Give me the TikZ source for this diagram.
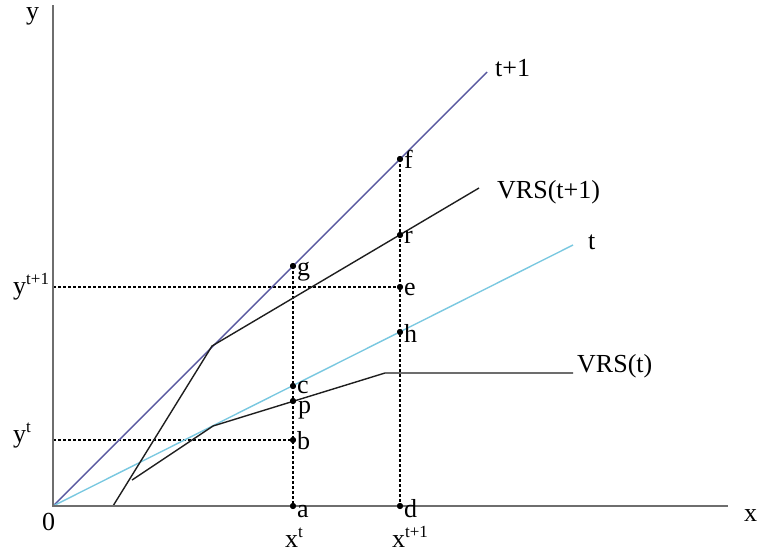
\documentclass[tikz,border=0pt]{standalone}
\usepackage{fontspec}
\setmainfont{Liberation Serif}
\definecolor{axisgray}{RGB}{110,110,110}
\definecolor{toneone}{RGB}{88,88,160}
\definecolor{tonezero}{RGB}{122,200,224}
\definecolor{vrsblack}{RGB}{30,30,30}
\newcommand\mysup[1]{\raisebox{0.36em}{\fontsize{17}{17}\selectfont #1}}
\begin{document}
\begin{tikzpicture}[x=1pt,y=-1pt,
  axisline/.style={draw=axisgray, line width=2.5pt},
  frontier/.style={line width=1.4pt},
  guide/.style={draw=black, dash pattern=on 3pt off 2pt, line width=1.1pt},
  dotnode/.style={circle, fill=black, inner sep=0pt, minimum size=6pt},
  lbl/.style={font=\fontsize{26}{30}\selectfont, inner sep=0pt, anchor=base west},
  lblc/.style={font=\fontsize{26}{30}\selectfont, inner sep=0pt, anchor=base}]
\useasboundingbox (0,0) rectangle (757,555);
% axes end points
\coordinate (O) at (53,506);
\coordinate (ytop) at (53,5);
\coordinate (xend) at (728,506);
\coordinate (yone) at (53,287);
\coordinate (yzero) at (53,440);
% frontier vertices
\coordinate (T1end) at (487,72);
\coordinate (T0end) at (573,245);
\coordinate (V1a) at (113,506);
\coordinate (V1b) at (212,346);
\coordinate (V1c) at (479,188);
\coordinate (V0a) at (132,480);
\coordinate (V0b) at (213,426);
\coordinate (V0c) at (385,373);
\coordinate (V0d) at (573,373);
% points
\node[dotnode] (g) at (293,266) {};
\node[dotnode] (c) at (293,386) {};
\node[dotnode] (p) at (293,401) {};
\node[dotnode] (b) at (293,440) {};
\node[dotnode] (a) at (293,506) {};
\node[dotnode] (f) at (400,159) {};
\node[dotnode] (r) at (400,235) {};
\node[dotnode] (e) at (400,287) {};
\node[dotnode] (h) at (400,332) {};
\node[dotnode] (d) at (400,506) {};
% dashed guides
\draw[guide] (yone) -- (e.center);
\draw[guide] (yzero) -- (b.center);
\draw[guide] (g.center) -- (a.center);
\draw[guide] (f.center) -- (d.center);
% frontiers
\draw[frontier, toneone] (O) -- (T1end);
\draw[frontier, tonezero] (O) -- (T0end);
\draw[frontier, vrsblack] (V1a) -- (V1b) -- (V1c);
\draw[frontier, vrsblack] (V0a) -- (V0b) -- (V0c) -- (V0d);
% axes
\draw[axisline] (ytop) -- (O) -- (xend);
% redraw dots on top
\foreach \n in {g,c,p,b,a,f,r,e,h,d} \fill (\n.center) circle (3pt);
% point labels
\node[lbl] (lg) at (297,275) {g};
\node[lbl, text height=12pt, text depth=0pt] (lc) at (297,393) {c};
\node[lbl, text height=12pt, text depth=6pt] (lp) at (298,413) {p};
\node[lbl] (lb) at (297,449) {b};
\node[lbl] (la) at (297,517) {a};
\node[lbl] (lf) at (404,168) {f};
\node[lbl] (lr) at (404,243) {r};
\node[lbl] (le) at (404,295) {e};
\node[lbl] (lh) at (404,342) {h};
\node[lbl] (ld) at (404,517) {d};
% curve labels
\node[lbl] (ltone) at (495,76) {t+1};
\node[lbl] (lvone) at (497,198) {VRS(t+1)};
\node[lbl] (ltzero) at (588,249) {t};
\node[lbl] (lvzero) at (577,372) {VRS(t)};
% axis labels
\node[lbl] (ly) at (26,19) {y};
\node[lbl] (lx) at (744,521) {x};
\node[lbl] (lo) at (42,530) {0};
\node[lbl] (lyone) at (13,294) {y\mysup{t+1}};
\node[lbl] (lyzero) at (13,442) {y\mysup{t}};
\node[lblc] (lxzero) at (294,547) {x\mysup{t}};
\node[lblc] (lxone) at (410,547) {x\mysup{t+1}};
\end{tikzpicture}
\end{document}
